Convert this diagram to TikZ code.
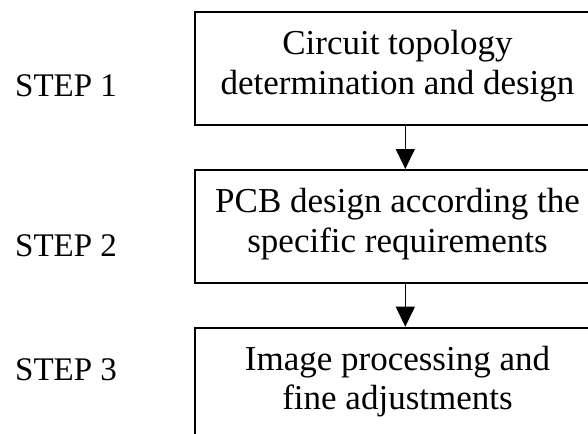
\documentclass[tikz,border=0pt]{standalone}
\usepackage{fontspec}
\setmainfont{Liberation Serif}
\usetikzlibrary{arrows.meta}
\begin{document}
\begin{tikzpicture}[x=1pt,y=-1pt,
  stepbox/.style={draw=black, line width=2pt, rectangle, anchor=north west,
    minimum width=406pt, minimum height=113pt, inner sep=0pt, align=center,
    font=\fontsize{35}{39.4}\selectfont},
  steplabel/.style={anchor=base west, inner sep=0pt, font=\fontsize{33}{36}\selectfont},
  flow/.style={line width=1.3pt, -{Triangle[width=19pt,length=20pt]}}
]
\useasboundingbox (0,0) rectangle (588,433);
\node[stepbox] (b1) at (193.5,11) {Circuit topology\\determination and design\rule[-12.5pt]{0pt}{0pt}};
\node[stepbox] (b2) at (193.5,169) {PCB design according the\\specific requirements\rule[-12.5pt]{0pt}{0pt}};
\node[stepbox] (b3) at (193.5,326.7) {Image processing and\\fine adjustments\rule[-12.5pt]{0pt}{0pt}};
\node[steplabel] (s1) at (15,96) {STEP 1};
\node[steplabel] (s2) at (15,256.5) {STEP 2};
\node[steplabel] (s3) at (15,380) {STEP 3};
\draw[flow] ([xshift=7.8pt]b1.south) -- ([xshift=7.8pt]b2.north);
\draw[flow] ([xshift=7.8pt]b2.south) -- ([xshift=7.8pt]b3.north);
\end{tikzpicture}
\end{document}
